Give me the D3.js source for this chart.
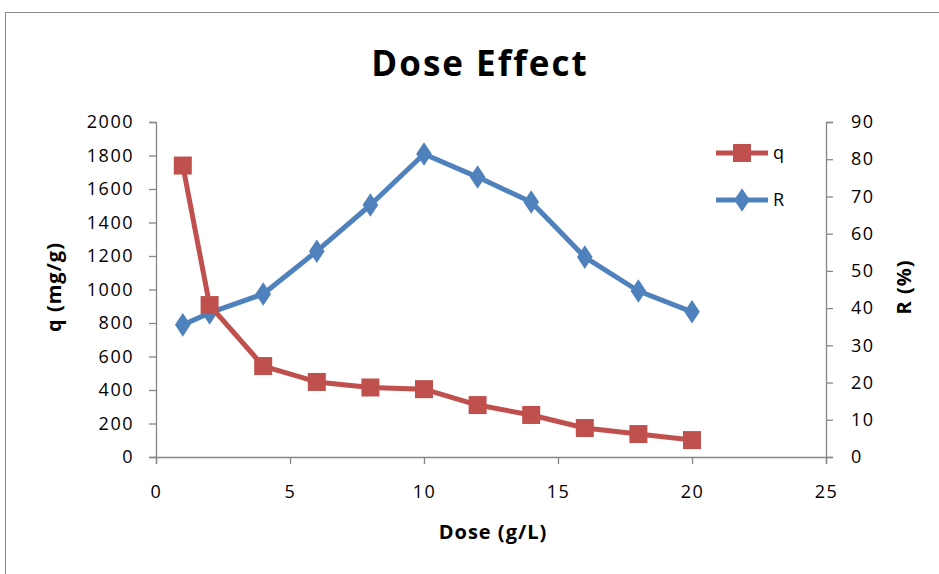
<!DOCTYPE html>
<html>
<head>
<meta charset="utf-8">
<script src="https://cdn.jsdelivr.net/npm/d3@7"></script>
<style>
  body { margin: 0; background: #fff; }
  text { font-family: "Open Sans", "DejaVu Sans", sans-serif; }
</style>
</head>
<body>
<div id="chart"></div>
<script>
const doses = [1, 2, 4, 6, 8, 10, 12, 14, 16, 18, 20]
const qValues = [1740, 907, 543, 448, 415, 405, 310, 251, 173, 137, 101]
const rValues = [35.5, 38.7, 43.8, 55.3, 67.7, 81.4, 75.2, 68.5, 53.7, 44.6, 39.0]
const xTicks = [0, 5, 10, 15, 20, 25]
const qTicks = [0, 200, 400, 600, 800, 1000, 1200, 1400, 1600, 1800, 2000]
const rTicks = [0, 10, 20, 30, 40, 50, 60, 70, 80, 90]

var width = 939, height = 574;
var plotLeft = 156, plotRight = 826, plotTop = 122, plotBottom = 457;
var axisColor = '#868686';
var qColor = '#c0504d', rColor = '#4f81bd';

var svg = d3.select('#chart').append('svg')
    .attr('width', width)
    .attr('height', height);

// chart frame
svg.append('rect')
    .attr('x', 5.5).attr('y', 12.5)
    .attr('width', 960).attr('height', 600)
    .attr('fill', 'none')
    .attr('stroke', '#898989');

var x = d3.scaleLinear().domain([0, 25]).range([plotLeft, plotRight]);
var yQ = d3.scaleLinear().domain([0, 2000]).range([plotBottom, plotTop]);
var yR = d3.scaleLinear().domain([0, 90]).range([plotBottom, plotTop]);

function styleAxis(g) {
    g.select('.domain').attr('stroke', axisColor).attr('stroke-width', 1.3);
    g.selectAll('.tick line').attr('stroke', axisColor).attr('stroke-width', 1.3);
    g.selectAll('.tick text')
        .attr('fill', '#000')
        .style('font-size', '18px')
        .style('letter-spacing', '1.5px')
        .style('font-family', '"Open Sans", sans-serif');
}

svg.append('g')
    .attr('transform', 'translate(0,' + plotBottom + ')')
    .call(d3.axisBottom(x).tickValues(xTicks).tickSizeOuter(0).tickSize(7).tickPadding(21))
    .call(styleAxis);

svg.append('g')
    .attr('transform', 'translate(' + plotLeft + ',0)')
    .call(d3.axisLeft(yQ).tickValues(qTicks).tickFormat(d3.format('d')).tickSizeOuter(0).tickSize(7).tickPadding(15))
    .call(styleAxis);

svg.append('g')
    .attr('transform', 'translate(' + plotRight + ',0)')
    .call(d3.axisRight(yR).tickValues(rTicks).tickSizeOuter(0).tickSize(7).tickPadding(18))
    .call(styleAxis);

// title and axis labels
svg.append('text')
    .attr('x', 480).attr('y', 76)
    .attr('text-anchor', 'middle')
    .style('font-size', '35px')
    .style('font-weight', 'bold')
    .style('letter-spacing', '2px')
    .text('Dose Effect');

svg.append('text')
    .attr('x', 493).attr('y', 539)
    .attr('text-anchor', 'middle')
    .style('font-size', '20px')
    .style('font-weight', 'bold')
    .style('letter-spacing', '1px')
    .text('Dose (g/L)');

svg.append('text')
    .attr('transform', 'translate(61,287) rotate(-90)')
    .attr('text-anchor', 'middle')
    .style('font-size', '20px')
    .style('font-weight', 'bold')
    .style('letter-spacing', '1px')
    .text('q (mg/g)');

svg.append('text')
    .attr('transform', 'translate(911,287) rotate(-90)')
    .attr('text-anchor', 'middle')
    .style('font-size', '20px')
    .style('font-weight', 'bold')
    .style('letter-spacing', '1px')
    .text('R (%)');

var qData = doses.map(function (d, i) { return [d, qValues[i]]; });
var rData = doses.map(function (d, i) { return [d, rValues[i]]; });

var diamond = d3.symbol().type(d3.symbolDiamond).size(160);

// R series
svg.append('path')
    .datum(rData)
    .attr('fill', 'none')
    .attr('stroke', rColor)
    .attr('stroke-width', 5)
    .attr('stroke-linejoin', 'round')
    .attr('d', d3.line().x(function (d) { return x(d[0]); }).y(function (d) { return yR(d[1]); }));

svg.append('g').selectAll('path')
    .data(rData)
    .enter()
    .append('path')
    .attr('transform', function (d) { return 'translate(' + x(d[0]) + ',' + yR(d[1]) + ') scale(1.15,1)'; })
    .attr('d', diamond)
    .attr('fill', rColor);

// q series
svg.append('path')
    .datum(qData)
    .attr('fill', 'none')
    .attr('stroke', qColor)
    .attr('stroke-width', 5)
    .attr('stroke-linejoin', 'round')
    .attr('d', d3.line().x(function (d) { return x(d[0]); }).y(function (d) { return yQ(d[1]); }));

svg.append('g').selectAll('rect')
    .data(qData)
    .enter()
    .append('rect')
    .attr('x', function (d) { return x(d[0]) - 9; })
    .attr('y', function (d) { return yQ(d[1]) - 9; })
    .attr('width', 18).attr('height', 18)
    .attr('fill', qColor);

// legend
var legend = svg.append('g');
var items = [
    { name: 'q', color: qColor, y: 153 },
    { name: 'R', color: rColor, y: 200 }
];
items.forEach(function (it) {
    legend.append('line')
        .attr('x1', 716).attr('x2', 768)
        .attr('y1', it.y).attr('y2', it.y)
        .attr('stroke', it.color).attr('stroke-width', 5);
    if (it.name === 'q') {
        legend.append('rect')
            .attr('x', 733).attr('y', it.y - 9)
            .attr('width', 18).attr('height', 18)
            .attr('fill', it.color);
    } else {
        legend.append('path')
            .attr('transform', 'translate(742,' + it.y + ') scale(1.15,1)')
            .attr('d', diamond)
            .attr('fill', it.color);
    }
    legend.append('text')
        .attr('x', 773).attr('y', it.y + 6)
        .style('font-size', '18px')
        .text(it.name);
});
</script>
</body>
</html>
